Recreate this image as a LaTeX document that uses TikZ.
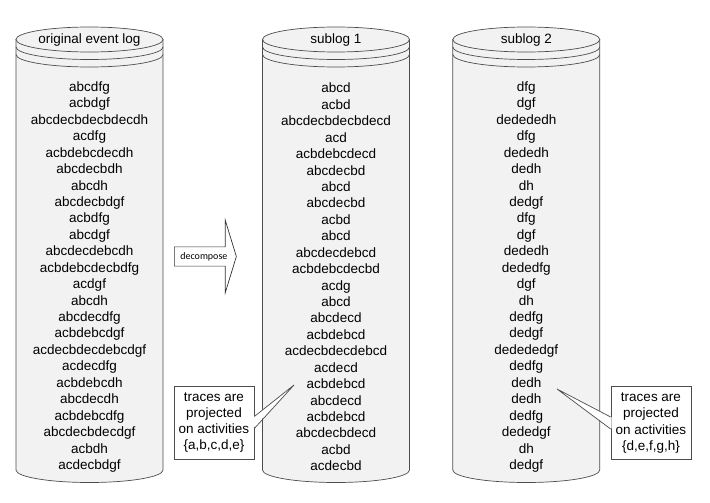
\documentclass[tikz,border=0pt]{standalone}
\usepackage{fontspec}
\setmainfont{Liberation Sans}
\newfontfamily\calibrifont{Carlito}
\usepackage{tikz}
\usetikzlibrary{shapes.arrows, positioning}
\definecolor{logfill}{gray}{0.95}
\definecolor{logline}{gray}{0.3}
\tikzstyle{logbody} = [
    draw=logline,
    fill=logfill,
    line width=0.7pt
]
\tikzstyle{rim} = [
    draw=logline,
    line width=0.7pt
]
\tikzstyle{logtext} = [
    align=center,
    inner sep=0pt,
    font=\fontsize{13.5}{16.43}\selectfont
]
\tikzstyle{notebox} = [
    rectangle,
    draw=logline,
    fill=white,
    line width=0.7pt,
    align=center,
    inner sep=0pt,
    minimum width=80pt,
    minimum height=73pt,
    font=\fontsize{13.5}{16.3}\selectfont
]
\tikzstyle{wedge} = [
    draw=logline,
    line width=0.7pt
]
\tikzstyle{splitarrow} = [
    single arrow,
    draw=black!80,
    fill=white,
    line width=0.7pt,
    minimum height=62pt,
    minimum width=73pt,
    single arrow head extend=18.5pt,
    single arrow tip angle=146,
    inner sep=2pt,
    font=\fontsize{10}{12}\selectfont\calibrifont
]

\begin{document}
\begin{tikzpicture}[x=1pt, y=1pt]
        \useasboundingbox (0,0) rectangle (710,-503);

        % Log cylinders
        \foreach \cx in {89.5, 336, 526.3} {
            \filldraw[logbody] (\cx-73.5,-39.5) -- (\cx-73.5,-470)
                arc[start angle=180, end angle=360, x radius=73.5, y radius=12.5]
                -- (\cx+73.5,-39.5) -- cycle;
            \filldraw[logbody] (\cx,-39.5) ellipse[x radius=73.5, y radius=12.5];
            \foreach \dy in {7.5, 15}
                \draw[rim] (\cx-73.5,-39.5-\dy)
                    arc[start angle=180, end angle=360, x radius=73.5, y radius=12.5];
        }

        % Titles
        \node[logtext] (title_log) at (89.5,-40) {original event log};
        \node[logtext] (title_sub1) at (336,-40) {sublog 1};
        \node[logtext] (title_sub2) at (526.3,-40) {sublog 2};

        % Traces
        \node[logtext] (traces_log) at (89.5,-277) {abcdfg\\acbdgf\\abcdecbdecbdecdh\\acdfg\\acbdebcdecdh\\abcdecbdh\\abcdh\\abcdecbdgf\\acbdfg\\abcdgf\\abcdecdebcdh\\acbdebcdecbdfg\\acdgf\\abcdh\\abcdecdfg\\acbdebcdgf\\acdecbdecdebcdgf\\acdecdfg\\acbdebcdh\\abcdecdh\\acbdebcdfg\\abcdecbdecdgf\\acbdh\\acdecbdgf};
        \node[logtext] (traces_sub1) at (336,-277) {abcd\\acbd\\abcdecbdecbdecd\\acd\\acbdebcdecd\\abcdecbd\\abcd\\abcdecbd\\acbd\\abcd\\abcdecdebcd\\acbdebcdecbd\\acdg\\abcd\\abcdecd\\acbdebcd\\acdecbdecdebcd\\acdecd\\acbdebcd\\abcdecd\\acbdebcd\\abcdecbdecd\\acbd\\acdecbd};
        \node[logtext] (traces_sub2) at (526.3,-277) {dfg\\dgf\\dedededh\\dfg\\dededh\\dedh\\dh\\dedgf\\dfg\\dgf\\dededh\\dededfg\\dgf\\dh\\dedfg\\dedgf\\dedededgf\\dedfg\\dedh\\dedh\\dedfg\\dededgf\\dh\\dedgf};

        % Decompose arrow
        \node[splitarrow, anchor=tail] (decompose) at (174,-256.5) {decompose};

        % Callouts
        \coordinate (tip_sub1) at (294,-385);
        \coordinate (tip_sub2) at (557,-389);
        \node[notebox] (note_sub1) at (214,-422.5) {traces are\\projected\\on activities\\\{a,b,c,d,e\}};
        \node[notebox] (note_sub2) at (651,-423) {traces are\\projected\\on activities\\\{d,e,f,g,h\}};
        \fill[white] ([xshift=-1pt, yshift=5.6pt]note_sub1.east) -- (tip_sub1) -- ([xshift=-1pt, yshift=-5.6pt]note_sub1.east) -- cycle;
        \draw[wedge] ([yshift=6pt]note_sub1.east) -- (tip_sub1) -- ([yshift=-6pt]note_sub1.east);
        \fill[white] ([xshift=1pt, yshift=5.6pt]note_sub2.west) -- (tip_sub2) -- ([xshift=1pt, yshift=-5.6pt]note_sub2.west) -- cycle;
        \draw[wedge] ([yshift=6pt]note_sub2.west) -- (tip_sub2) -- ([yshift=-6pt]note_sub2.west);
    \end{tikzpicture}
\end{document}
